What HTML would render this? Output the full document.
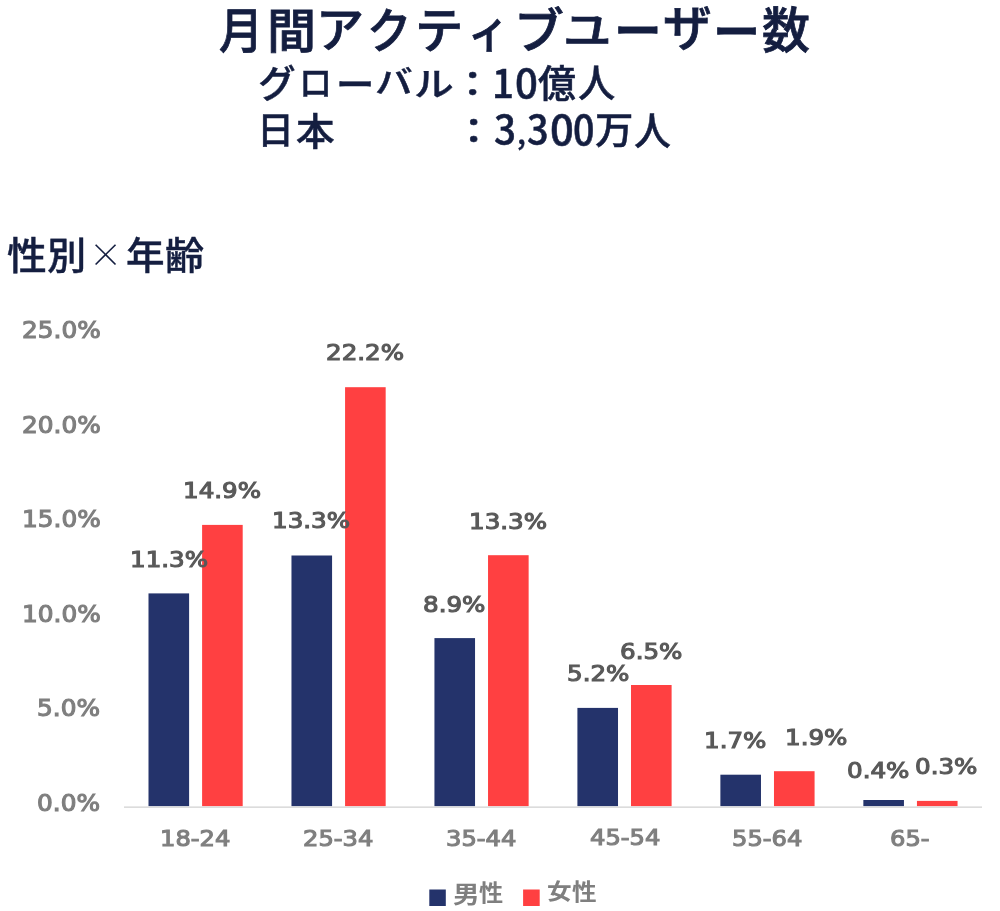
<!DOCTYPE html>
<html lang="ja"><head><meta charset="utf-8"><title>月間アクティブユーザー数</title>
<style>
html,body{margin:0;padding:0;background:#fff;}
body{width:1000px;height:911px;position:relative;overflow:hidden;}
.t{position:absolute;white-space:nowrap;line-height:1;transform-origin:0 0;will-change:opacity;}
.bar{position:absolute;width:40px;}
.m{background:#24336b;}
.f{background:#ff4041;}
.lg{position:absolute;width:17px;height:17px;}
.chart{position:absolute;left:0;top:0;}
</style></head><body>
<svg class="chart" width="1000" height="911" viewBox="0 0 1000 911"><rect x="124" y="806.4" width="858" height="1.5" fill="#d9d9d9"/><rect x="148.50" y="593.4" width="40.6" height="212.7" fill="#24336b"/><rect x="202.10" y="524.9" width="40.6" height="281.2" fill="#ff4041"/><rect x="291.47" y="555.5" width="40.6" height="250.6" fill="#24336b"/><rect x="345.07" y="387.2" width="40.6" height="418.9" fill="#ff4041"/><rect x="434.44" y="638.1" width="40.6" height="168.0" fill="#24336b"/><rect x="488.04" y="555.2" width="40.6" height="250.9" fill="#ff4041"/><rect x="577.41" y="707.9" width="40.6" height="98.2" fill="#24336b"/><rect x="631.01" y="685.0" width="40.6" height="121.1" fill="#ff4041"/><rect x="720.38" y="774.7" width="40.6" height="31.4" fill="#24336b"/><rect x="773.98" y="771.2" width="40.6" height="34.9" fill="#ff4041"/><rect x="863.35" y="800.0" width="40.6" height="6.1" fill="#24336b"/><rect x="916.95" y="800.9" width="40.6" height="5.2" fill="#ff4041"/><rect x="429.3" y="889.5" width="16.5" height="16.5" fill="#24336b"/><rect x="523.1" y="889.5" width="16.6" height="16.5" fill="#ff4041"/></svg>
<div class="t" style="left:219.23px;top:3.20px;font-size:49.26px;font-family:'Noto Sans CJK JP',sans-serif;font-weight:500;color:#141e40;-webkit-text-stroke:0.8px #141e40;transform:scale(0.8957,0.9744);">月</div>
<div class="t" style="left:266.61px;top:3.93px;font-size:49.26px;font-family:'Noto Sans CJK JP',sans-serif;font-weight:500;color:#141e40;-webkit-text-stroke:0.8px #141e40;transform:scale(0.9963,0.9518);">間</div>
<div class="t" style="left:316.30px;top:2.90px;font-size:49.26px;font-family:'Noto Sans CJK JP',sans-serif;font-weight:500;color:#141e40;-webkit-text-stroke:0.8px #141e40;transform:scale(0.9744,0.9640);">ア</div>
<div class="t" style="left:367.47px;top:4.08px;font-size:49.26px;font-family:'Noto Sans CJK JP',sans-serif;font-weight:500;color:#141e40;-webkit-text-stroke:0.8px #141e40;transform:scale(0.8992,0.9603);">ク</div>
<div class="t" style="left:415.38px;top:2.42px;font-size:49.26px;font-family:'Noto Sans CJK JP',sans-serif;font-weight:500;color:#141e40;-webkit-text-stroke:0.8px #141e40;transform:scale(0.9792,0.9947);">テ</div>
<div class="t" style="left:468.14px;top:3.83px;font-size:49.26px;font-family:'Noto Sans CJK JP',sans-serif;font-weight:500;color:#141e40;-webkit-text-stroke:0.8px #141e40;transform:scale(0.8282,0.9338);">ィ</div>
<div class="t" style="left:513.78px;top:2.59px;font-size:49.26px;font-family:'Noto Sans CJK JP',sans-serif;font-weight:500;color:#141e40;-webkit-text-stroke:0.8px #141e40;transform:scale(1.0126,0.9788);">ブ</div>
<div class="t" style="left:562.96px;top:6.98px;font-size:49.26px;font-family:'Noto Sans CJK JP',sans-serif;font-weight:500;color:#141e40;-webkit-text-stroke:0.8px #141e40;transform:scale(0.9839,0.8369);">ユ</div>
<div class="t" style="left:613.62px;top:1.21px;font-size:49.26px;font-family:'Noto Sans CJK JP',sans-serif;font-weight:500;color:#141e40;-webkit-text-stroke:0.8px #141e40;transform:scale(0.9693,1.0788);">ー</div>
<div class="t" style="left:662.96px;top:0.33px;font-size:49.26px;font-family:'Noto Sans CJK JP',sans-serif;font-weight:500;color:#141e40;-webkit-text-stroke:0.8px #141e40;transform:scaleX(0.9899);">ザ</div>
<div class="t" style="left:712.69px;top:1.71px;font-size:49.26px;font-family:'Noto Sans CJK JP',sans-serif;font-weight:500;color:#141e40;-webkit-text-stroke:0.8px #141e40;transform:scale(0.9566,1.0788);">ー</div>
<div class="t" style="left:761.80px;top:3.36px;font-size:49.26px;font-family:'Noto Sans CJK JP',sans-serif;font-weight:500;color:#141e40;-webkit-text-stroke:0.8px #141e40;transform:scale(0.9722,0.9831);">数</div>
<div class="t" style="left:258.37px;top:61.88px;font-size:37.77px;font-family:'Noto Sans CJK JP',sans-serif;font-weight:500;color:#141e40;-webkit-text-stroke:0.5px #141e40;transform:scale(0.9965,0.9929);">グ</div>
<div class="t" style="left:298.93px;top:64.12px;font-size:37.77px;font-family:'Noto Sans CJK JP',sans-serif;font-weight:500;color:#141e40;-webkit-text-stroke:0.5px #141e40;transform:scale(0.8774,0.9229);">ロ</div>
<div class="t" style="left:335.51px;top:62.92px;font-size:37.77px;font-family:'Noto Sans CJK JP',sans-serif;font-weight:500;color:#141e40;-webkit-text-stroke:0.5px #141e40;transform:scale(1.0161,0.9986);">ー</div>
<div class="t" style="left:375.16px;top:64.28px;font-size:37.77px;font-family:'Noto Sans CJK JP',sans-serif;font-weight:500;color:#141e40;-webkit-text-stroke:0.5px #141e40;transform:scale(0.9994,0.8395);">バ</div>
<div class="t" style="left:413.50px;top:64.50px;font-size:37.77px;font-family:'Noto Sans CJK JP',sans-serif;font-weight:500;color:#141e40;-webkit-text-stroke:0.5px #141e40;transform:scale(1.0521,0.8805);">ル</div>
<div class="t" style="left:452.10px;top:63.99px;font-size:35.38px;font-family:'Noto Sans CJK JP',sans-serif;font-weight:500;color:#141e40;-webkit-text-stroke:0.5px #141e40;transform:scaleX(1.1700);">：</div>
<div class="t" style="left:492.43px;top:60.71px;font-size:39.67px;font-family:'Noto Sans CJK JP',sans-serif;font-weight:500;color:#141e40;-webkit-text-stroke:0.5px #141e40;transform:scale(0.9741,0.9937);">1</div>
<div class="t" style="left:514.74px;top:60.57px;font-size:39.67px;font-family:'Noto Sans CJK JP',sans-serif;font-weight:500;color:#141e40;-webkit-text-stroke:0.5px #141e40;transform:scaleX(1.0129);">0</div>
<div class="t" style="left:538.02px;top:62.61px;font-size:37.18px;font-family:'Noto Sans CJK JP',sans-serif;font-weight:500;color:#141e40;-webkit-text-stroke:0.5px #141e40;transform:scale(1.0221,1.0144);">億</div>
<div class="t" style="left:578.21px;top:61.77px;font-size:37.18px;font-family:'Noto Sans CJK JP',sans-serif;font-weight:500;color:#141e40;-webkit-text-stroke:0.5px #141e40;transform:scale(1.0029,1.0322);">人</div>
<div class="t" style="left:257.38px;top:109.74px;font-size:38.04px;font-family:'Noto Sans CJK JP',sans-serif;font-weight:500;color:#141e40;-webkit-text-stroke:0.5px #141e40;transform:scale(0.9741,0.9829);">日</div>
<div class="t" style="left:296.46px;top:109.98px;font-size:38.04px;font-family:'Noto Sans CJK JP',sans-serif;font-weight:500;color:#141e40;-webkit-text-stroke:0.5px #141e40;transform:scaleX(1.0141);">本</div>
<div class="t" style="left:452.90px;top:111.22px;font-size:35.69px;font-family:'Noto Sans CJK JP',sans-serif;font-weight:500;color:#141e40;-webkit-text-stroke:0.5px #141e40;transform:scaleX(1.1599);">：</div>
<div class="t" style="left:493.51px;top:107.80px;font-size:37.29px;font-family:'Noto Sans CJK JP',sans-serif;font-weight:500;color:#141e40;-webkit-text-stroke:0.5px #141e40;transform:scale(1.0349,1.0656);">3</div>
<div class="t" style="left:516.58px;top:115.75px;font-size:37.29px;font-family:'Noto Sans CJK JP',sans-serif;font-weight:500;color:#141e40;-webkit-text-stroke:0.5px #141e40;transform:scale(0.8000,0.8352);">,</div>
<div class="t" style="left:527.39px;top:107.80px;font-size:37.29px;font-family:'Noto Sans CJK JP',sans-serif;font-weight:500;color:#141e40;-webkit-text-stroke:0.5px #141e40;transform:scale(1.0155,1.0656);">3</div>
<div class="t" style="left:549.96px;top:107.70px;font-size:37.29px;font-family:'Noto Sans CJK JP',sans-serif;font-weight:500;color:#141e40;-webkit-text-stroke:0.5px #141e40;transform:scale(1.1207,1.0799);">0</div>
<div class="t" style="left:572.56px;top:107.70px;font-size:37.29px;font-family:'Noto Sans CJK JP',sans-serif;font-weight:500;color:#141e40;-webkit-text-stroke:0.5px #141e40;transform:scale(1.0115,1.0799);">0</div>
<div class="t" style="left:594.77px;top:109.86px;font-size:37.89px;font-family:'Noto Sans CJK JP',sans-serif;font-weight:500;color:#141e40;-webkit-text-stroke:0.5px #141e40;transform:scale(1.0117,0.9836);">万</div>
<div class="t" style="left:634.42px;top:109.15px;font-size:37.89px;font-family:'Noto Sans CJK JP',sans-serif;font-weight:500;color:#141e40;-webkit-text-stroke:0.5px #141e40;transform:scale(0.9756,1.0189);">人</div>
<div class="t" style="left:7.12px;top:234.25px;font-size:37.82px;font-family:'Noto Sans CJK JP',sans-serif;font-weight:500;color:#141e40;-webkit-text-stroke:0.4px #141e40;transform:scaleX(1.0514);">性</div>
<div class="t" style="left:47.29px;top:234.25px;font-size:37.82px;font-family:'Noto Sans CJK JP',sans-serif;font-weight:500;color:#141e40;-webkit-text-stroke:0.4px #141e40;transform:scaleX(1.0357);">別</div>
<div class="t" style="left:88.72px;top:237.34px;font-size:32.84px;font-family:'Noto Sans CJK JP',sans-serif;font-weight:300;color:#141e40;transform:scaleX(1.0096);">×</div>
<div class="t" style="left:125.77px;top:234.46px;font-size:37.71px;font-family:'Noto Sans CJK JP',sans-serif;font-weight:500;color:#141e40;-webkit-text-stroke:0.4px #141e40;transform:scaleX(1.0223);">年</div>
<div class="t" style="left:165.10px;top:234.46px;font-size:37.71px;font-family:'Noto Sans CJK JP',sans-serif;font-weight:500;color:#141e40;-webkit-text-stroke:0.4px #141e40;transform:scaleX(1.0369);">齢</div>
<div class="t" style="left:453.12px;top:879.71px;font-size:22.24px;font-family:'Noto Sans CJK JP',sans-serif;font-weight:700;color:#7f7f7f;transform:scale(1.1932,1.0741);">男</div>
<div class="t" style="left:478.60px;top:880.48px;font-size:22.24px;font-family:'Noto Sans CJK JP',sans-serif;font-weight:700;color:#7f7f7f;transform:scale(1.0885,1.0233);">性</div>
<div class="t" style="left:546.57px;top:880.23px;font-size:22.76px;font-family:'Noto Sans CJK JP',sans-serif;font-weight:700;color:#7f7f7f;transform:scale(1.0838,0.9682);">女</div>
<div class="t" style="left:571.99px;top:880.49px;font-size:22.76px;font-family:'Noto Sans CJK JP',sans-serif;font-weight:700;color:#7f7f7f;transform:scale(1.0823,0.9955);">性</div>
<div class="t" style="left:21.70px;top:319.04px;font-size:22.37px;font-family:'DejaVu Sans',sans-serif;font-weight:400;color:#7f7f7f;-webkit-text-stroke:1.1px #7f7f7f;transform:scaleX(1.1088);">25.0%</div>
<div class="t" style="left:21.70px;top:413.60px;font-size:22.37px;font-family:'DejaVu Sans',sans-serif;font-weight:400;color:#7f7f7f;-webkit-text-stroke:1.1px #7f7f7f;transform:scaleX(1.1088);">20.0%</div>
<div class="t" style="left:21.70px;top:508.16px;font-size:22.37px;font-family:'DejaVu Sans',sans-serif;font-weight:400;color:#7f7f7f;-webkit-text-stroke:1.1px #7f7f7f;transform:scaleX(1.1088);">15.0%</div>
<div class="t" style="left:21.70px;top:602.72px;font-size:22.37px;font-family:'DejaVu Sans',sans-serif;font-weight:400;color:#7f7f7f;-webkit-text-stroke:1.1px #7f7f7f;transform:scaleX(1.1088);">10.0%</div>
<div class="t" style="left:37.41px;top:697.28px;font-size:22.37px;font-family:'DejaVu Sans',sans-serif;font-weight:400;color:#7f7f7f;-webkit-text-stroke:1.1px #7f7f7f;transform:scaleX(1.1088);">5.0%</div>
<div class="t" style="left:37.41px;top:791.84px;font-size:22.37px;font-family:'DejaVu Sans',sans-serif;font-weight:400;color:#7f7f7f;-webkit-text-stroke:1.1px #7f7f7f;transform:scaleX(1.1088);">0.0%</div>
<div class="t" style="left:159.86px;top:827.59px;font-size:21.85px;font-family:'DejaVu Sans',sans-serif;font-weight:400;color:#7f7f7f;-webkit-text-stroke:1.1px #7f7f7f;transform:scaleX(1.1076);">18-24</div>
<div class="t" style="left:303.46px;top:827.59px;font-size:21.85px;font-family:'DejaVu Sans',sans-serif;font-weight:400;color:#7f7f7f;-webkit-text-stroke:1.1px #7f7f7f;transform:scaleX(1.1076);">25-34</div>
<div class="t" style="left:446.26px;top:827.59px;font-size:21.85px;font-family:'DejaVu Sans',sans-serif;font-weight:400;color:#7f7f7f;-webkit-text-stroke:1.1px #7f7f7f;transform:scaleX(1.1076);">35-44</div>
<div class="t" style="left:589.66px;top:827.41px;font-size:21.85px;font-family:'DejaVu Sans',sans-serif;font-weight:400;color:#7f7f7f;-webkit-text-stroke:1.1px #7f7f7f;transform:scaleX(1.1076);">45-54</div>
<div class="t" style="left:732.26px;top:827.59px;font-size:21.85px;font-family:'DejaVu Sans',sans-serif;font-weight:400;color:#7f7f7f;-webkit-text-stroke:1.1px #7f7f7f;transform:scaleX(1.1076);">55-64</div>
<div class="t" style="left:890.29px;top:827.59px;font-size:21.85px;font-family:'DejaVu Sans',sans-serif;font-weight:400;color:#7f7f7f;-webkit-text-stroke:1.1px #7f7f7f;transform:scaleX(1.1076);">65-</div>
<div class="t" style="left:129.62px;top:548.79px;font-size:21.33px;font-family:'DejaVu Sans',sans-serif;font-weight:400;color:#595959;-webkit-text-stroke:1.1px #595959;transform:scaleX(1.1523);">11.3%</div>
<div class="t" style="left:183.32px;top:480.29px;font-size:21.33px;font-family:'DejaVu Sans',sans-serif;font-weight:400;color:#595959;-webkit-text-stroke:1.1px #595959;transform:scaleX(1.1523);">14.9%</div>
<div class="t" style="left:272.42px;top:510.49px;font-size:21.33px;font-family:'DejaVu Sans',sans-serif;font-weight:400;color:#595959;-webkit-text-stroke:1.1px #595959;transform:scaleX(1.1523);">13.3%</div>
<div class="t" style="left:326.49px;top:342.04px;font-size:21.33px;font-family:'DejaVu Sans',sans-serif;font-weight:400;color:#595959;-webkit-text-stroke:1.1px #595959;transform:scaleX(1.1523);">22.2%</div>
<div class="t" style="left:423.07px;top:594.09px;font-size:21.33px;font-family:'DejaVu Sans',sans-serif;font-weight:400;color:#595959;-webkit-text-stroke:1.1px #595959;transform:scaleX(1.1523);">8.9%</div>
<div class="t" style="left:469.47px;top:510.89px;font-size:21.33px;font-family:'DejaVu Sans',sans-serif;font-weight:400;color:#595959;-webkit-text-stroke:1.1px #595959;transform:scaleX(1.1523);">13.3%</div>
<div class="t" style="left:566.71px;top:663.44px;font-size:21.33px;font-family:'DejaVu Sans',sans-serif;font-weight:400;color:#595959;-webkit-text-stroke:1.1px #595959;transform:scaleX(1.1523);">5.2%</div>
<div class="t" style="left:620.12px;top:640.59px;font-size:21.33px;font-family:'DejaVu Sans',sans-serif;font-weight:400;color:#595959;-webkit-text-stroke:1.1px #595959;transform:scaleX(1.1523);">6.5%</div>
<div class="t" style="left:704.45px;top:729.69px;font-size:21.33px;font-family:'DejaVu Sans',sans-serif;font-weight:400;color:#595959;-webkit-text-stroke:1.1px #595959;transform:scaleX(1.1523);">1.7%</div>
<div class="t" style="left:785.10px;top:726.89px;font-size:21.33px;font-family:'DejaVu Sans',sans-serif;font-weight:400;color:#595959;-webkit-text-stroke:1.1px #595959;transform:scaleX(1.1523);">1.9%</div>
<div class="t" style="left:847.32px;top:759.84px;font-size:21.33px;font-family:'DejaVu Sans',sans-serif;font-weight:400;color:#595959;-webkit-text-stroke:1.1px #595959;transform:scaleX(1.1523);">0.4%</div>
<div class="t" style="left:915.32px;top:756.09px;font-size:21.33px;font-family:'DejaVu Sans',sans-serif;font-weight:400;color:#595959;-webkit-text-stroke:1.1px #595959;transform:scaleX(1.1523);">0.3%</div>
</body></html>
